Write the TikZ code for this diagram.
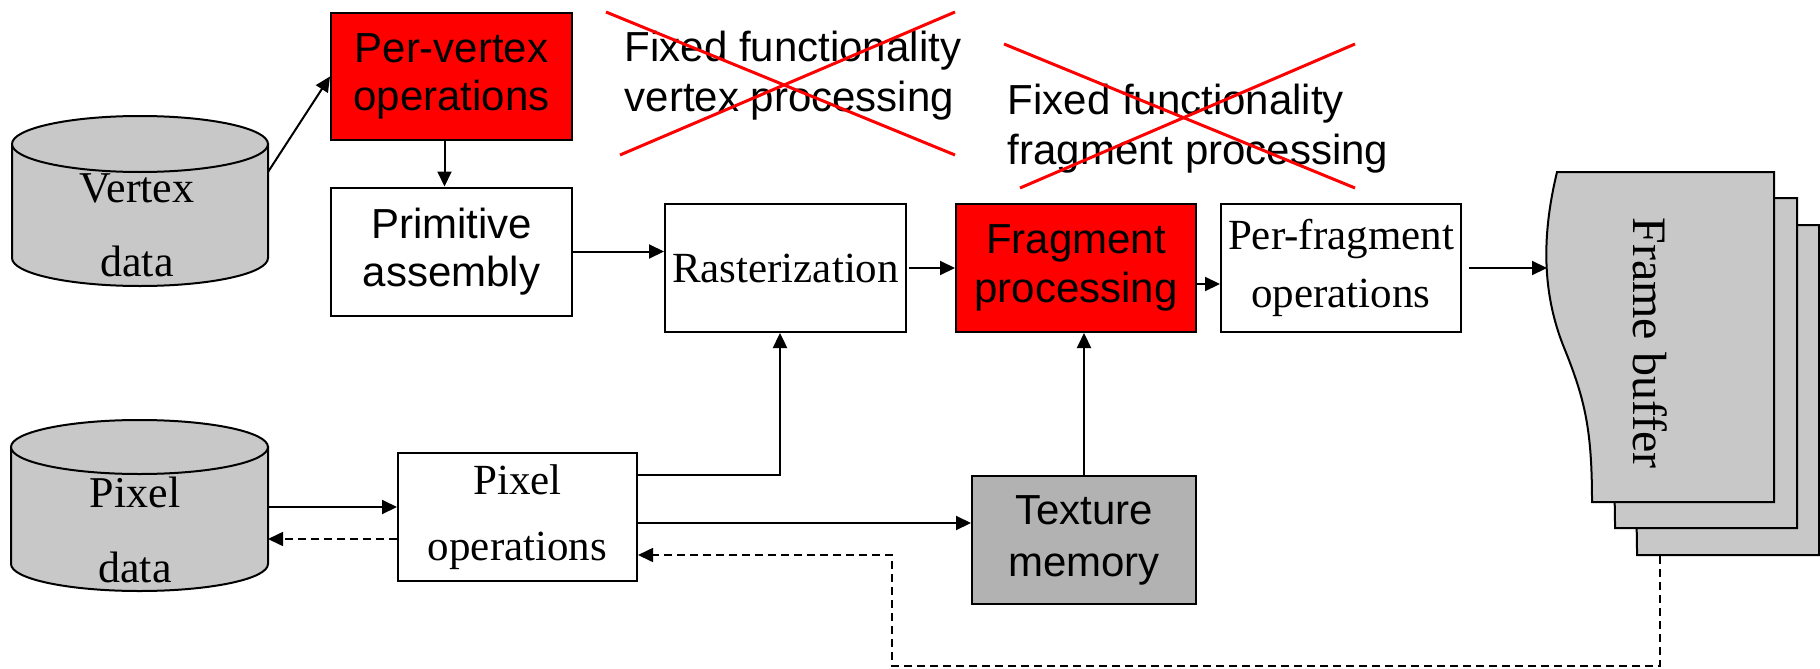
\documentclass[tikz,border=0pt]{standalone}
\usepackage{fontspec}
\setmainfont{Liberation Serif}
\setsansfont{Liberation Sans}
\usetikzlibrary{arrows.meta}
\definecolor{vred}{HTML}{FF0000}
\definecolor{cylgray}{HTML}{C8C8C8}
\definecolor{texgray}{HTML}{B2B2B2}
\begin{document}
\begin{tikzpicture}[x=1pt,y=-1pt,
  box/.style={draw, line width=2pt, inner sep=0pt, align=center, minimum width=240pt, minimum height=128pt},
  sansbox/.style={box, font=\sffamily\fontsize{42}{49}\selectfont},
  serifbox/.style={box, font=\fontsize{43}{58}\selectfont},
  arr/.style={line width=2pt, -{Triangle[length=15pt,width=14pt]}},
  dsh/.style={line width=1.6pt, dash pattern=on 8pt off 5pt, -{Triangle[length=15pt,width=14pt]}},
  cross/.style={draw=vred, line width=3pt},
  cyl/.style={draw, line width=2pt, fill=cylgray},
  cyltext/.style={font=\fontsize{44}{74}\selectfont, align=center, inner sep=0pt},
  fixtext/.style={font=\sffamily\fontsize{42}{50}\selectfont, align=left, inner sep=0pt},
]
\useasboundingbox (0,0) rectangle (1820,669);

% cylinders
\path[cyl] (12,144) -- (12,258) arc[start angle=180, end angle=360, x radius=128pt, y radius=28pt] -- (268,144) -- cycle;
\path[cyl] (140,144) ellipse[x radius=128pt, y radius=28pt];
\node (vd) [cyltext] at (137,225) {Vertex\\data};

\path[cyl] (11,447) -- (11,564) arc[start angle=180, end angle=360, x radius=128.5pt, y radius=27pt] -- (268,447) -- cycle;
\path[cyl] (139.5,447) ellipse[x radius=128.5pt, y radius=27pt];
\node (pd) [cyltext, font=\fontsize{44}{75}\selectfont] at (135,530) {Pixel\\data};

% boxes
\node (pv) [sansbox, fill=vred, minimum width=241pt, minimum height=127pt, font=\sffamily\fontsize{42}{48}\selectfont] at (451.5,76.5) {Per-vertex\\operations};
\node (pa) [sansbox, minimum width=241pt, font=\sffamily\fontsize{42}{48}\selectfont] at (451.5,251.5) {Primitive\\assembly};
\node (ra) [serifbox, minimum width=241pt] at (785.5,268) {Rasterization};
\node (fp) [sansbox, fill=vred, font=\sffamily\fontsize{42}{49}\selectfont] at (1076,268) {Fragment\\processing};
\node (pf) [serifbox] at (1341,268) {Per-fragment\\operations};
\node (po) [serifbox, minimum width=239pt, font=\fontsize{43}{66}\selectfont] at (517.5,517) {Pixel\\operations};
\node (tm) [sansbox, fill=texgray, minimum width=224pt, font=\sffamily\fontsize{42}{52}\selectfont] at (1084,540) {Texture\\memory};

% frame buffer
\foreach \dx/\dy in {45/53, 23/26, 0/0} {
  \begin{scope}[shift={(\dx,\dy)}]
    \path[cyl] (1557,172) -- (1774,172) -- (1774,502) -- (1592,502)
      .. controls (1592,430) and (1585,400) .. (1565,350)
      .. controls (1540,290) and (1543,230) .. (1557,172) -- cycle;
  \end{scope}
}
\node (fbt) [rotate=-90, font=\fontsize{48}{48}\selectfont, inner sep=0pt] at (1650,343) {Frame buffer};

% crossed-out labels
\node (ffv) [fixtext] at (793,76) {Fixed functionality\\vertex processing};
\node (fff) [fixtext] at (1198,129) {Fixed functionality\\fragment processing};
\draw[cross] (606,12) -- (955,155);
\draw[cross] (620,155) -- (955,12);
\draw[cross] (1004,44) -- (1355,188);
\draw[cross] (1020,188) -- (1355,44);

% connectors
\coordinate (vdout) at (268,172);
\coordinate (pdin1) at (268,507);
\coordinate (pdin2) at (268,539);
\coordinate (y284) at (0,284);
\coordinate (fbin) at (1547,268);
\coordinate (rj) at (780,475);
\coordinate (tj) at (0,523);
\coordinate (fbout) at (1660,556);
\coordinate (fbc1) at (1660,666);
\coordinate (fbc2) at (892,555);

\draw[arr] (vdout) -- (pv.west);
\draw[arr] ([xshift=-7pt]pv.south) -- ([xshift=-7pt]pa.north);
\draw[arr] (pa.east) -- (pa.east -| ra.west);
\draw[arr] ([xshift=2pt]ra.east) -- (fp.west);
\draw[arr] (fp.east |- y284) -- (pf.west |- y284);
\draw[arr] ([xshift=7pt]pf.east) -- (fbin);
\draw[arr] (pdin1) -- (pdin1 -| po.west);
\draw[dsh] (po.west |- pdin2) -- (pdin2);
\draw[arr, line width=2.4pt] (po.east |- rj) -- (rj) -- (rj |- ra.south);
\draw[arr] (po.east |- tj) -- (tm.west |- tj);
\draw[arr] (tm.north) -- (tm.north |- fp.south);
\draw[dsh] (fbout) -- (fbc1) -- (fbc1 -| fbc2) -- (fbc2) -- (po.east |- fbc2);
\end{tikzpicture}
\end{document}
